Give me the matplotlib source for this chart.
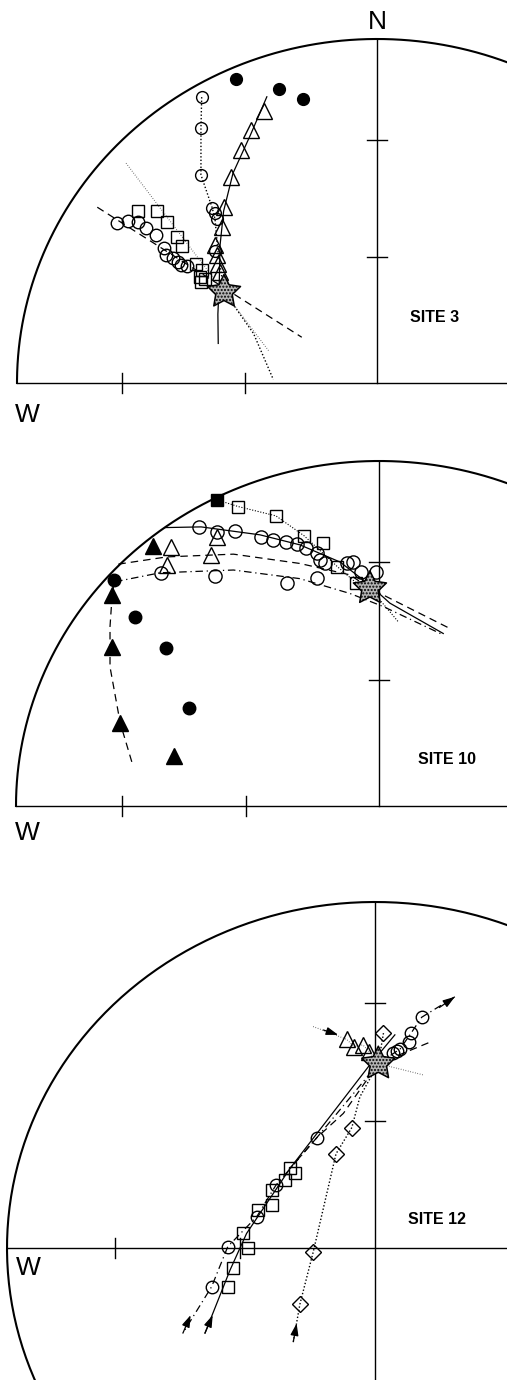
import numpy as np
import matplotlib
matplotlib.use('Agg')
import matplotlib.pyplot as plt
from matplotlib.path import Path

plt.rcParams['font.family'] = ['Liberation Sans', 'DejaVu Sans']

# all positions in equal-area projection units, primitive radius = 100
# (x = east, y = north)

# ---- SITE 3 ----
s3_star = (-42.5, 26.5)
s3_fcirc_x = [-39.2, -27.2, -20.6]
s3_fcirc_y = [88.4, 85.5, 82.6]
s3_ocirc_x = [-48.7, -48.9, -48.9, -45.8, -44.9, -44.5, -45.0]
s3_ocirc_y = [83.1, 74.0, 60.5, 51.0, 49.3, 47.7, 38.5]
s3_ocirc_line_x = [-48.7, -48.9, -48.9, -45.8, -45.0, -44.2, -42.5, -40.8, -34.3, -28.8]
s3_ocirc_line_y = [83.1, 74.0, 60.5, 51.0, 47.7, 38.5, 26.5, 24.1, 14.4, 1.0]
s3_tri_x = [-31.3, -35.1, -37.7, -40.6, -42.5, -43.1, -44.9, -44.4, -44.1, -43.6]
s3_tri_y = [79.1, 73.5, 67.7, 60.0, 51.2, 45.3, 40.1, 37.2, 34.5, 32.4]
s3_tri_line_x = [-30.6, -35.2, -40.0, -42.6, -43.6, -43.8, -44.2, -44.1]
s3_tri_line_y = [83.2, 72.0, 61.0, 50.0, 40.0, 30.0, 20.0, 11.5]
s3_circ2_x = [-72.3, -69.3, -66.5, -64.2, -61.4, -59.2, -58.6, -56.6, -55.4, -54.4, -52.9]
s3_circ2_y = [46.6, 47.2, 46.9, 45.0, 43.0, 39.2, 37.2, 36.3, 35.3, 34.3, 34.1]
s3_circ2_line_x = [-77.7, -20.9]
s3_circ2_line_y = [51.1, 13.3]
s3_sq_x = [-66.3, -61.2, -58.3, -55.5, -54.3, -50.3, -48.7, -49.2, -48.9, -47.8]
s3_sq_y = [50.1, 50.1, 46.9, 42.5, 39.9, 34.6, 32.8, 30.9, 29.3, 30.1]
s3_sq_line_x = [-69.7, -29.9]
s3_sq_line_y = [63.9, 9.1]

# ---- SITE 10 ----
s10_star = (-2.5, 63.1)
s10_fsq = (-44.5, 88.7)
s10_sq_x = [-38.8, -28.4, -20.6, -15.5, -11.5, -6.3]
s10_sq_y = [86.8, 84.1, 78.3, 76.1, 69.4, 64.7]
s10_sq_line_x = [-44.5, -38.8, -28.4, -20.6, -11.5, -6.3, -2.5, 3.0, 5.3]
s10_sq_line_y = [88.7, 86.8, 84.1, 78.3, 69.4, 64.7, 63.1, 56.3, 53.4]
s10_circ_x = [-49.5, -44.5, -39.6, -32.5, -29.1, -25.6, -22.7, -20.1, -17.2, -16.3,
              -14.9, -8.9, -7.1, -5.0, -0.8]
s10_circ_y = [81.0, 79.5, 79.8, 78.1, 77.1, 76.6, 75.9, 74.7, 73.4, 71.3,
              70.3, 70.3, 70.8, 67.9, 67.9]
s10_solid_x = [-59.0, -49.0, -32.8, -21.8, -10.7, -2.5, 3.0, 17.7]
s10_solid_y = [80.7, 80.9, 78.6, 75.7, 70.7, 64.0, 58.8, 50.0]
s10_circ2_x = [-60.1, -45.2, -25.4, -17.0]
s10_circ2_y = [67.4, 66.7, 64.5, 66.0]
s10_dashdot_x = [-72.7, -60.3, -40.1, -21.8, -8.0, 1.2, 17.7]
s10_dashdot_y = [65.0, 67.6, 68.4, 65.9, 61.6, 57.8, 49.6]
s10_otri_x = [-57.3, -58.5, -44.5, -46.4]
s10_otri_y = [75.2, 70.0, 77.9, 72.8]
s10_dash_x = [-71.8, -58.5, -40.1, -21.8, -8.0, -2.5, 20.0]
s10_dash_y = [70.1, 72.2, 73.0, 70.3, 67.0, 63.1, 51.2]
s10_ftri_x = [-62.2, -73.5, -73.5, -71.3, -56.5]
s10_ftri_y = [75.4, 61.3, 46.2, 24.1, 14.5]
s10_fcirc_x = [-72.9, -67.2, -58.7, -52.3]
s10_fcirc_y = [65.5, 54.9, 45.7, 28.3]
s10_arc_x = [-68.1, -71.3, -74.1, -74.1, -73.5, -72.7]
s10_arc_y = [12.8, 24.1, 40.3, 52.0, 61.3, 66.5]

# ---- SITE 12 ----
s12_star = (0.9, 53.3)
s12_tri_x = [-7.7, -5.7, -3.3, -1.5]
s12_tri_y = [60.3, 58.2, 58.7, 56.7]
s12_tri_line_x = [-16.8, -7.7, -5.7, -3.3, -1.5, 0.9, 13.2]
s12_tri_line_y = [64.0, 60.3, 58.2, 58.7, 56.7, 53.3, 50.0]
s12_dia_x = [2.3, -6.3, -10.6, -16.8, -20.4]
s12_dia_y = [62.1, 34.8, 27.2, -1.2, -16.2]
s12_dia_line_x = [2.3, 0.9, -4.1, -6.3, -10.6, -16.8, -20.4, -22.2]
s12_dia_line_y = [62.1, 53.3, 43.7, 34.8, 27.2, -1.2, -16.2, -27.1]
s12_circ_x = [12.7, 9.8, 9.2, 6.8, 5.9, 5.0, -15.8, -26.9, -32.1, -40.0, -44.4]
s12_circ_y = [66.7, 62.1, 59.4, 57.5, 57.0, 56.5, 31.9, 18.2, 9.1, 0.4, -11.2]
s12_circ_line_x = [21.7, 12.7, 9.8, 6.8, 0.9, -15.8, -26.9, -32.1, -40.0, -44.4, -52.2]
s12_circ_line_y = [72.6, 66.7, 62.1, 57.5, 53.3, 31.9, 18.2, 9.1, 0.4, -11.2, -24.6]
s12_sq_x = [-23.1, -21.7, -24.5, -28.1, -28.1, -31.7, -36.0, -34.4, -38.7, -40.0]
s12_sq_y = [23.0, 21.6, 19.7, 16.8, 12.4, 11.0, 4.4, -0.1, -5.7, -11.4]
s12_solid_x = [5.4, -1.8, -23.1, -34.9, -39.4, -46.2]
s12_solid_y = [61.6, 52.4, 23.0, 4.2, -6.4, -24.6]
s12_dash_x = [14.5, 0.9, -8.6, -15.8, -23.1]
s12_dash_y = [59.3, 53.3, 38.9, 31.9, 23.0]


def star_marker(inner=0.5):
    ang = np.pi / 2 + np.arange(10) * np.pi / 5
    r = np.where(np.arange(10) % 2 == 0, 1.0, inner)
    v = np.column_stack([r * np.cos(ang), r * np.sin(ang)])
    return Path(np.vstack([v, v[0]]), closed=True)


STAR = star_marker()
W, H = 507, 1380

fig = plt.figure(figsize=(W / 100, H / 100), dpi=100)


def make_panel(cx, cy, rx, ry, top, bottom, full=False):
    ax = fig.add_axes([0, 1 - bottom / H, 1, (bottom - top) / H])
    ax.set_xlim((0 - cx) / rx * 100, (W - cx) / rx * 100)
    ax.set_ylim((cy - bottom) / ry * 100, (cy - top) / ry * 100)
    ax.set_axis_off()
    t = np.linspace(0, 2 * np.pi if full else np.pi, 400)
    ax.plot(100 * np.cos(t), 100 * np.sin(t), color='k', lw=1.5)
    xmax = (W - cx) / rx * 100 + 5
    ax.plot([-100, xmax], [0, 0], color='k', lw=1.0)
    ax.plot([0, 0], [-100 if full else 0, 100], color='k', lw=1.0)
    # 30 and 60 deg inclination ticks (equal area)
    for inc in [30, 60]:
        r = 100 * np.sqrt(2) * np.sin(np.radians((90 - inc) / 2))
        ax.plot([-2.8, 2.8], [r, r], color='k', lw=1.0)
        ax.plot([-r, -r], [-2.9, 2.9], color='k', lw=1.0)
    return ax


def star(ax, p):
    ax.scatter([p[0]], [p[1]], s=25 ** 2, marker=STAR, facecolor='#b5b5b5',
               edgecolor='k', linewidths=1.1, hatch='.....', zorder=6)


def arrow(ax, tail, tip):
    ax.annotate('', xy=tip, xytext=tail,
                arrowprops=dict(arrowstyle='-|>,head_length=0.6,head_width=0.2',
                                color='k', lw=0.9, mutation_scale=12,
                                shrinkA=0, shrinkB=0))


dot = (0, (1, 1.5))
fine = (0, (0.6, 1.6))
dash = (0, (6, 4))
dashdot = (0, (6, 3, 1, 3))
op = dict(mfc='none', mec='k', mew=1.0, ls='none')

# ---------------- SITE 3 ----------------
ax = make_panel(377, 383, 360, 344, 0, 440)
ax.plot(s3_ocirc_line_x, s3_ocirc_line_y, color='k', lw=1.0, ls=dot)
ax.plot(s3_tri_line_x, s3_tri_line_y, color='k', lw=0.9)
ax.plot(s3_circ2_line_x, s3_circ2_line_y, color='k', lw=0.9, ls=dash)
ax.plot(s3_sq_line_x, s3_sq_line_y, color='#444444', lw=0.8, ls=fine)
ax.plot(s3_fcirc_x, s3_fcirc_y, 'o', color='k', ms=8.5)
ax.plot(s3_ocirc_x, s3_ocirc_y, 'o', ms=8.5, **op)
ax.plot(s3_tri_x, s3_tri_y, '^', ms=11, **op)
ax.plot(s3_circ2_x, s3_circ2_y, 'o', ms=9, **op)
ax.plot(s3_sq_x, s3_sq_y, 's', ms=8, **op)
star(ax, s3_star)
ax.text(16.1, 18.9, 'SITE 3', fontsize=11.5, fontweight='bold', ha='center', va='center')
ax.text(0, 104.9, 'N', fontsize=19, ha='center', va='center')
ax.text(-97.2, -9.3, 'W', fontsize=19, ha='center', va='center')

# ---------------- SITE 10 ----------------
ax = make_panel(379, 806, 363, 345, 440, 860)
ax.plot(s10_sq_line_x, s10_sq_line_y, color='k', lw=0.8, ls=dot)
ax.plot(s10_solid_x, s10_solid_y, color='k', lw=0.9)
ax.plot(s10_dash_x, s10_dash_y, color='k', lw=0.9, ls=dash)
ax.plot(s10_dashdot_x, s10_dashdot_y, color='k', lw=0.9, ls=dashdot)
ax.plot(s10_arc_x, s10_arc_y, color='k', lw=0.9, ls=dash)
ax.plot([s10_fsq[0]], [s10_fsq[1]], 's', color='k', ms=8.5)
ax.plot(s10_sq_x, s10_sq_y, 's', ms=8.5, **op)
ax.plot(s10_circ_x, s10_circ_y, 'o', ms=9.5, **op)
ax.plot(s10_circ2_x, s10_circ2_y, 'o', ms=9.5, **op)
ax.plot(s10_otri_x, s10_otri_y, '^', ms=11.5, **op)
ax.plot(s10_ftri_x, s10_ftri_y, '^', color='k', ms=11.5)
ax.plot(s10_fcirc_x, s10_fcirc_y, 'o', color='k', ms=9)
star(ax, s10_star)
ax.text(18.6, 13.5, 'SITE 10', fontsize=11.5, fontweight='bold', ha='center', va='center')
ax.text(-97.0, -7.8, 'W', fontsize=19, ha='center', va='center')

# ---------------- SITE 12 ----------------
ax = make_panel(375, 1248, 368, 346, 860, 1380, full=True)
ax.plot(s12_tri_line_x, s12_tri_line_y, color='#444444', lw=0.8, ls=fine)
ax.plot(s12_dia_line_x, s12_dia_line_y, color='k', lw=1.0, ls=dot)
ax.plot(s12_circ_line_x, s12_circ_line_y, color='k', lw=0.9, ls=dashdot)
ax.plot(s12_solid_x, s12_solid_y, color='k', lw=0.9)
ax.plot(s12_dash_x, s12_dash_y, color='k', lw=0.9, ls=dash)
ax.plot(s12_tri_x, s12_tri_y, '^', ms=11, **op)
ax.plot(s12_dia_x, s12_dia_y, 'D', ms=8, **op)
ax.plot(s12_circ_x, s12_circ_y, 'o', ms=9, **op)
ax.plot(s12_sq_x, s12_sq_y, 's', ms=8.5, **op)
arrow(ax, (-14.0, 63.0), (-10.0, 61.6))
arrow(ax, (17.5, 69.5), (21.7, 72.6))
arrow(ax, (s12_circ_line_x[-1], s12_circ_line_y[-1]), (-50.1, -19.4))
arrow(ax, (s12_solid_x[-1], s12_solid_y[-1]), (-44.1, -19.4))
arrow(ax, (s12_dia_line_x[-1], s12_dia_line_y[-1]), (-21.3, -21.8))
star(ax, s12_star)
ax.text(16.8, 8.1, 'SITE 12', fontsize=11.5, fontweight='bold', ha='center', va='center')
ax.text(-94.3, -5.8, 'W', fontsize=19, ha='center', va='center')

fig.savefig('out.png', dpi=100)
